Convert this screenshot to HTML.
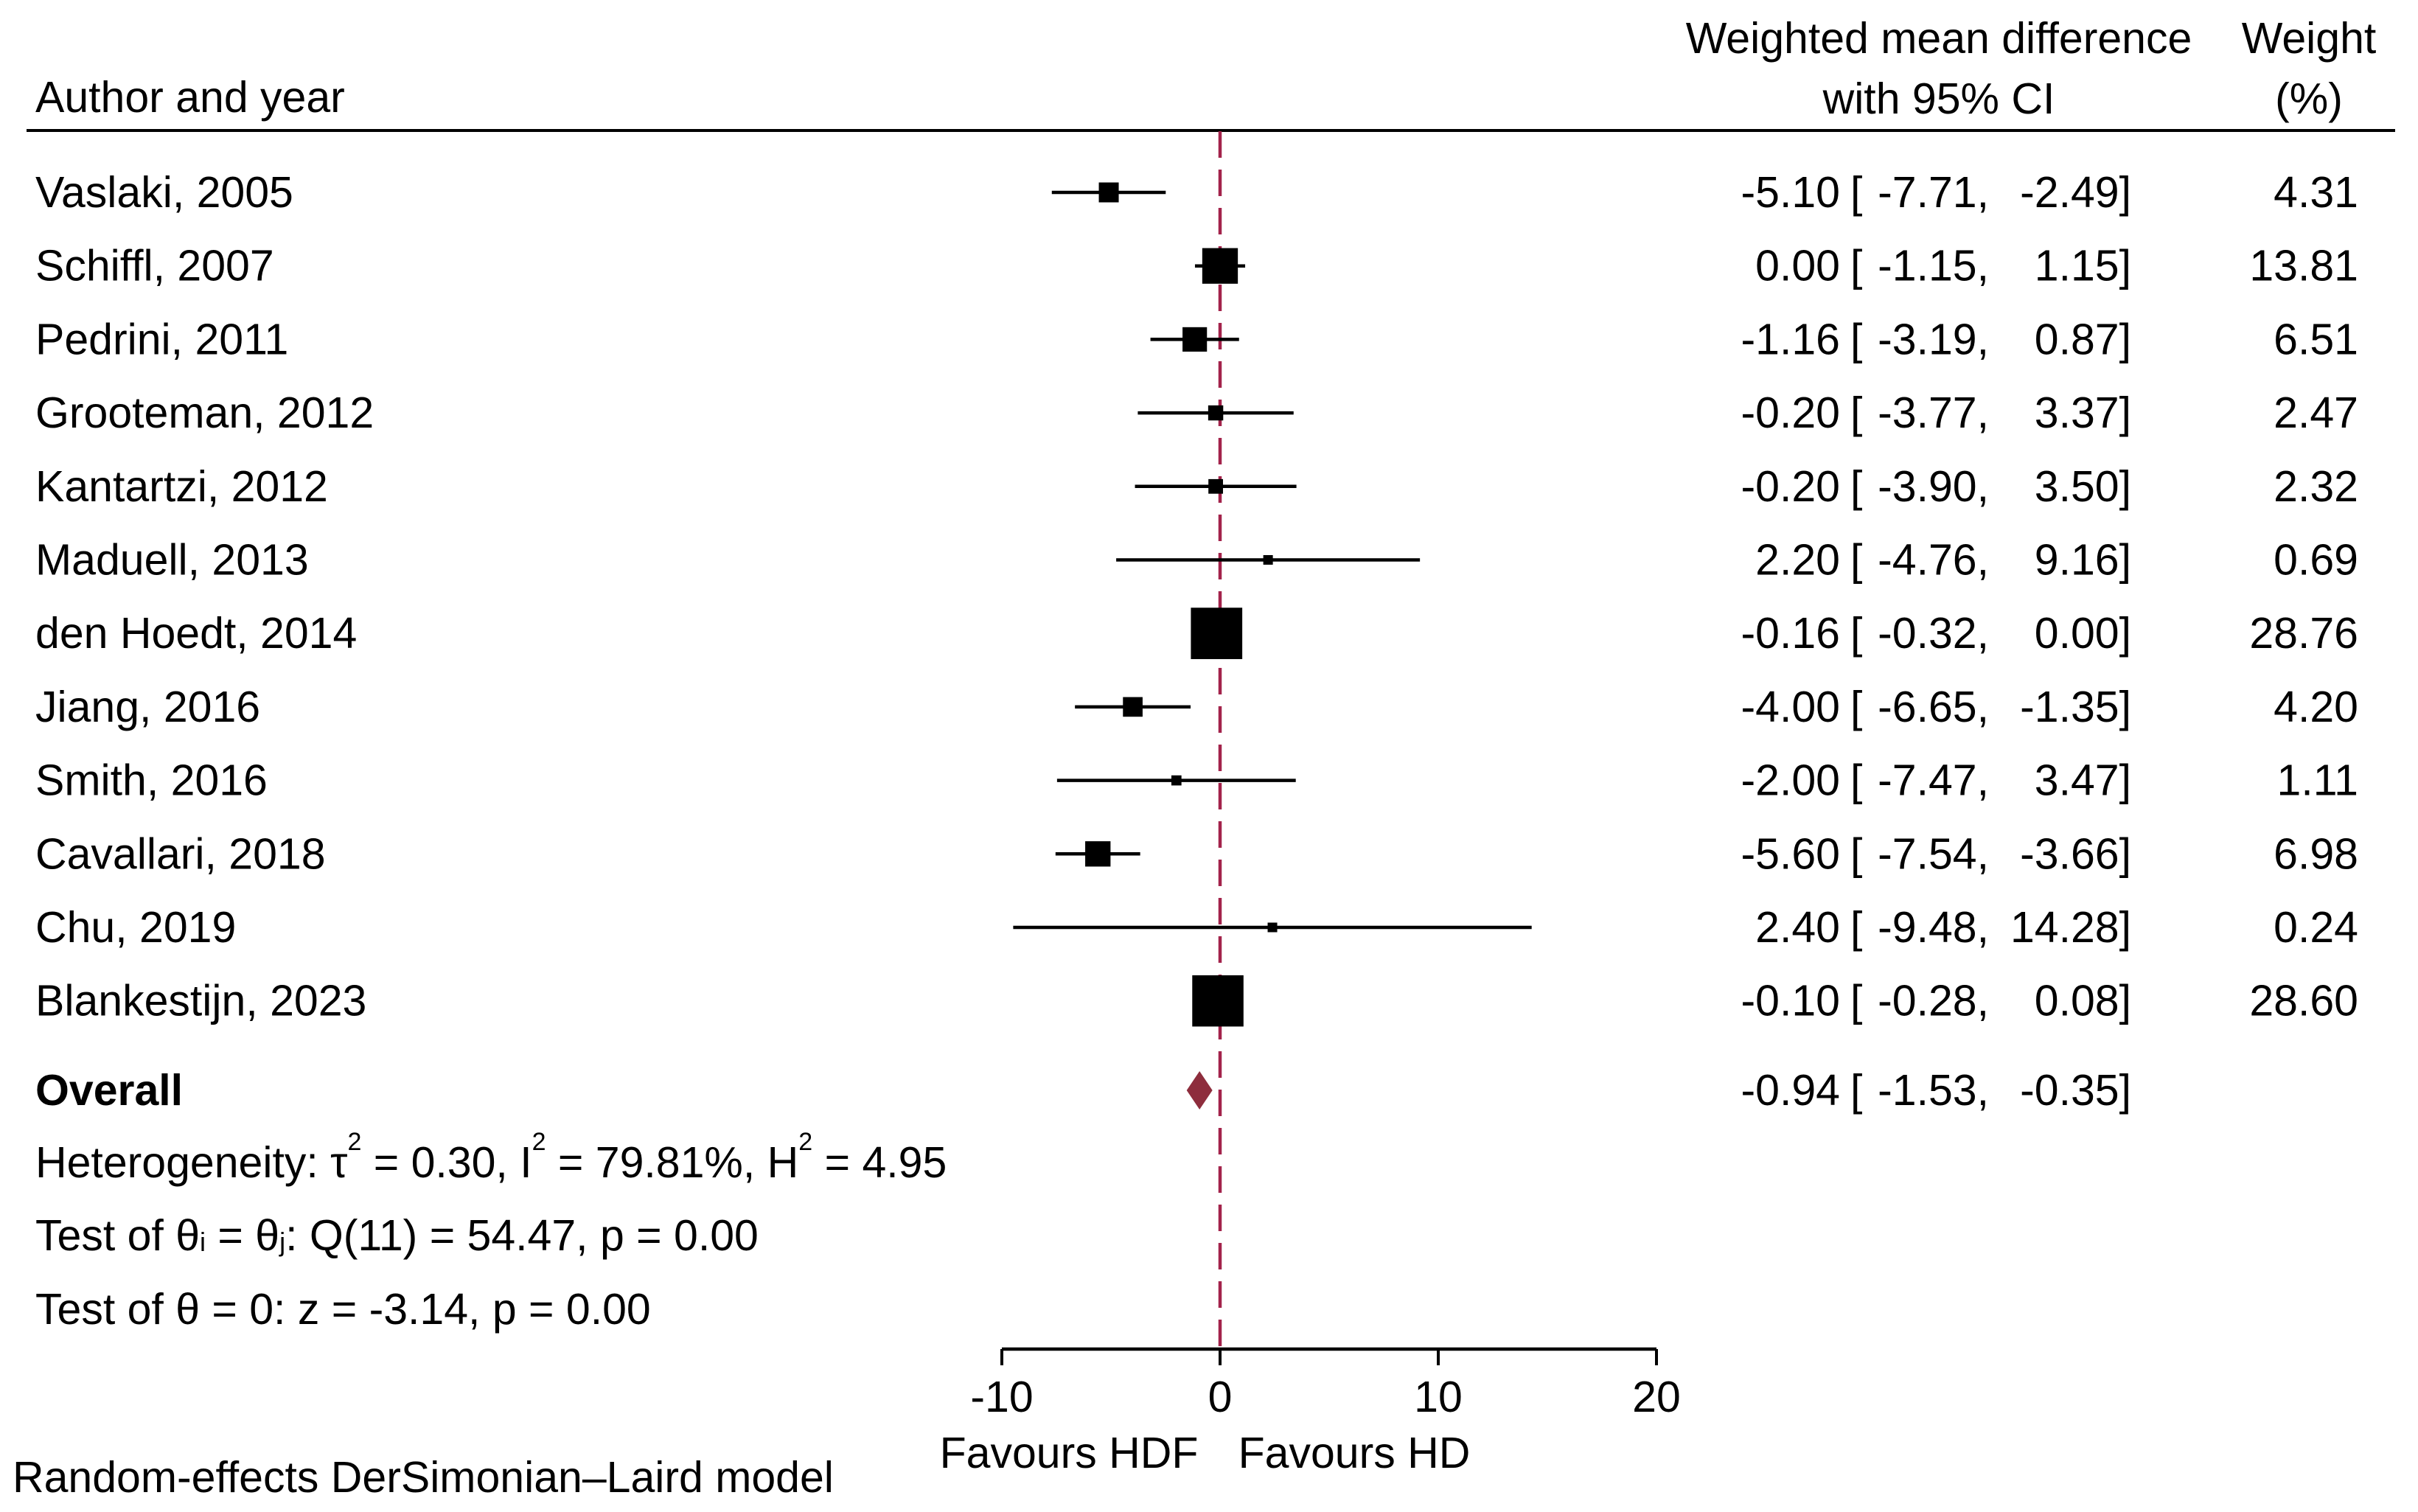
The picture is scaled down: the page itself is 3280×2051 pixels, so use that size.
<!DOCTYPE html>
<html><head><meta charset="utf-8"><style>
html,body{margin:0;padding:0;background:#fff;}
svg{display:block;font-family:"Liberation Sans",Arial,sans-serif;}
text{font-size:59px;fill:#000;dominant-baseline:central;}
</style></head><body>
<svg id="chart" width="3280" height="2051" viewBox="0 0 3280 2051">
<g>
<text x="48" y="132">Author and year</text>
<text x="2630" y="52" text-anchor="middle">Weighted mean difference</text>
<text x="2630" y="134" text-anchor="middle">with 95% CI</text>
<text x="3132" y="52" text-anchor="middle">Weight</text>
<text x="3132" y="134" text-anchor="middle">(%)</text>
<line x1="36" y1="177" x2="3249" y2="177" stroke="#000" stroke-width="4"/>
</g>
<line x1="1655" y1="178" x2="1655" y2="1830" stroke="#A3234B" stroke-width="4.5" stroke-dasharray="36,16"/>
<g id="rows"></g>
<g id="overall"></g>
<text x="48" y="1577">Heterogeneity: τ<tspan dy="-28" font-size="34">2</tspan><tspan dy="28"> = 0.30, I</tspan><tspan dy="-28" font-size="34">2</tspan><tspan dy="28"> = 79.81%, H</tspan><tspan dy="-28" font-size="34">2</tspan><tspan dy="28"> = 4.95</tspan></text>
<text x="48" y="1676">Test of θ<tspan font-size="36" dy="8">i</tspan><tspan dy="-8"> = θ</tspan><tspan font-size="36" dy="8">j</tspan><tspan dy="-8">: Q(11) = 54.47, p = 0.00</tspan></text>
<text x="48" y="1776">Test of θ = 0: z = -3.14, p = 0.00</text>
<g id="axis"></g>
<text x="1450" y="1971" text-anchor="middle">Favours HDF</text>
<text x="1837" y="1971" text-anchor="middle">Favours HD</text>
<text x="17" y="2004">Random-effects DerSimonian–Laird model</text>
</svg>
<script>
const studies=["Vaslaki, 2005","Schiffl, 2007","Pedrini, 2011","Grooteman, 2012","Kantartzi, 2012","Maduell, 2013","den Hoedt, 2014","Jiang, 2016","Smith, 2016","Cavallari, 2018","Chu, 2019","Blankestijn, 2023"];
const estimates=[-5.10,0.00,-1.16,-0.20,-0.20,2.20,-0.16,-4.00,-2.00,-5.60,2.40,-0.10];
const lowers=[-7.71,-1.15,-3.19,-3.77,-3.90,-4.76,-0.32,-6.65,-7.47,-7.54,-9.48,-0.28];
const uppers=[-2.49,1.15,0.87,3.37,3.50,9.16,0.00,-1.35,3.47,-3.66,14.28,0.08];
const weights=[4.31,13.81,6.51,2.47,2.32,0.69,28.76,4.20,1.11,6.98,0.24,28.60];
const overall=[-0.94,-1.53,-0.35];
const ticks=[-10,0,10,20];
const NS="http://www.w3.org/2000/svg";
const xs=v=>1655+29.6*v;
const ys=i=>261+99.7*i;
function mk(tag,attrs,parent,txt){const e=document.createElementNS(NS,tag);for(const k in attrs)e.setAttribute(k,attrs[k]);if(txt!==undefined)e.textContent=txt;parent.appendChild(e);return e;}
const f=v=>v.toFixed(2);
const rows=document.getElementById('rows');
studies.forEach((s,i)=>{
 const y=ys(i);
 const g=mk('g',{},rows);
 
 
 const t=mk('text',{x:48,y:y},g,s);
 
 
 const l=mk('line',{x1:xs(lowers[i]),x2:xs(uppers[i]),y1:y,y2:y,stroke:'#000','stroke-width':4.5},g);
 
 
 const sz=Math.max(13*Math.sqrt(weights[i]),13);
 const r=mk('rect',{x:xs(estimates[i])-sz/2,y:y-sz/2,width:sz,height:sz,fill:'#000'},g);
 
 
 const e=mk('text',{x:2496,y:y,'text-anchor':'end'},g,f(estimates[i]));
 
 
 const b=mk('text',{x:2510,y:y},g,'[');
 
 
 const lo=mk('text',{x:2698,y:y,'text-anchor':'end'},g,f(lowers[i])+',');
 
 
 const up=mk('text',{x:2891,y:y,'text-anchor':'end'},g,f(uppers[i])+']');
 
 
 const w=mk('text',{x:3199,y:y,'text-anchor':'end'},g,f(weights[i]));
 
 
});
const og=document.getElementById('overall');


const oy=1479;
const ot=mk('text',{x:48,y:oy,'font-weight':'bold'},og,'Overall');


const d=mk('polygon',{points:`${xs(overall[1])},${oy} ${xs(overall[0])},${oy-26} ${xs(overall[2])},${oy} ${xs(overall[0])},${oy+26}`,fill:'#8E2D3D'},og);


[[2496,'end',f(overall[0])],[2510,'start','['],[2698,'end',f(overall[1])+','],[2891,'end',f(overall[2])+']']].forEach(a=>{
 const t=mk('text',{x:a[0],y:oy,'text-anchor':a[1]},og,a[2]);
 
 
});
const ax=document.getElementById('axis');


const al=mk('line',{x1:xs(ticks[0]),x2:xs(ticks[ticks.length-1]),y1:1830,y2:1830,stroke:'#000','stroke-width':4.5},ax);


ticks.forEach(t=>{
 const tl=mk('line',{x1:xs(t),x2:xs(t),y1:1830,y2:1852,stroke:'#000','stroke-width':4},ax);
 
 
 const tx=mk('text',{x:xs(t),y:1895,'text-anchor':'middle'},ax,String(t));
 
 
});
</script>
</body></html>
